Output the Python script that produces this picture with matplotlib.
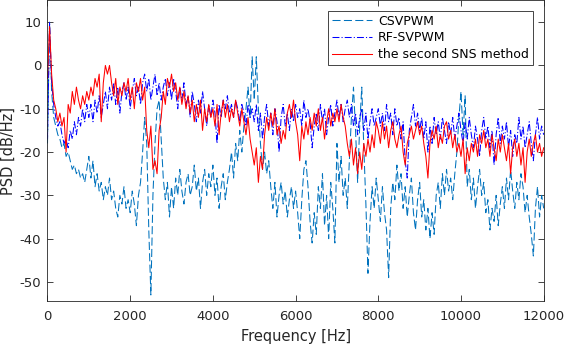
import numpy as np
import matplotlib
matplotlib.use('Agg')
import matplotlib.pyplot as plt

# frequency grid of the read-off points [Hz]
freq = np.arange(0, 12001, 50)

# CSVPWM PSD [dB/Hz]
csvpwm = [
    -18, 10, -6, -12, -14, -16, -17, -19, -18, -21, -20, -22, -24, -23, -25, -24, -26, -25, -27, -24,
    -21, -26, -22, -28, -25, -29, -27, -31, -28, -30, -26, -31, -29, -33, -35, -30, -32, -28, -33, -31,
    -34, -29, -32, -37, -30, -27, -20, -12, -18, -38, -53, -30, -18, -10, -8, -17, -26, -31, -27, -35,
    -28, -33, -26, -30, -24, -29, -32, -27, -25, -30, -28, -23, -29, -26, -33, -27, -24, -30, -25, -28,
    -23, -30, -26, -33, -28, -25, -31, -27, -24, -20, -26, -18, -22, -15, -20, -14, -10, -5, -12, 2,
    -8, 2, -10, -18, -24, -20, -25, -22, -28, -33, -27, -35, -30, -27, -32, -29, -35, -31, -28, -33,
    -29, -34, -40, -31, -24, -22, -28, -36, -41, -34, -39, -28, -33, -25, -37, -30, -40, -27, -33, -41,
    -18, -27, -21, -30, -26, -33, -22, -12, -5, -15, -27, -14, -5, -19, -32, -48, -36, -28, -33, -26,
    -31, -36, -28, -34, -38, -49, -33, -27, -31, -23, -29, -25, -33, -28, -35, -30, -26, -34, -38, -31,
    -27, -35, -31, -38, -33, -40, -34, -39, -30, -27, -33, -25, -30, -24, -29, -26, -31, -25, -20, -12,
    -6, -16, -7, -28, -24, -31, -26, -33, -28, -24, -30, -27, -34, -31, -38, -33, -36, -30, -37, -32,
    -28, -33, -26, -31, -24, -29, -33, -27, -31, -25, -28, -34, -30, -35, -39, -44, -33, -28, -35, -30, -33,
]

# RF-SVPWM PSD [dB/Hz]
rfsvpwm = [
    -17, 10, -4, -9, -12, -14, -13, -16, -18, -17, -19, -15, -17, -13, -16, -12, -14, -10, -13, -9,
    -12, -9, -13, -8, -11, -7, -12, -9, -6, -10, -5, -8, -4, -9, -5, -11, -6, -4, -8, -5,
    -10, -6, -3, -7, -5, -9, -4, -2, -6, -3, -8, -5, -2, -7, -4, -8, -5, -3, -7, -4,
    -8, -3, -6, -10, -5, -8, -4, -9, -7, -12, -6, -9, -13, -8, -11, -6, -10, -14, -9, -12,
    -8, -11, -18, -9, -12, -8, -10, -7, -11, -9, -12, -8, -10, -13, -9, -11, -14, -9, -12, -10,
    -13, -9, -15, -11, -17, -12, -9, -14, -11, -16, -10, -13, -20, -12, -9, -14, -11, -15, -10, -13,
    -9, -12, -10, -14, -8, -12, -10, -13, -19, -14, -11, -15, -9, -13, -10, -16, -12, -9, -14, -11,
    -8, -12, -9, -13, -10, -8, -12, -9, -14, -11, -16, -12, -10, -15, -11, -17, -13, -10, -14, -12,
    -10, -14, -11, -15, -9, -13, -11, -16, -10, -14, -12, -17, -13, -22, -26, -15, -12, -9, -14, -11,
    -15, -12, -17, -13, -20, -14, -18, -12, -16, -13, -17, -12, -15, -18, -13, -16, -12, -17, -14, -11,
    -15, -18, -13, -17, -12, -16, -19, -14, -17, -21, -15, -12, -17, -14, -19, -15, -23, -16, -12, -18,
    -14, -17, -13, -19, -15, -21, -16, -18, -12, -17, -14, -19, -16, -13, -18, -22, -16, -12, -17, -14, -16,
]

# the second SNS method PSD [dB/Hz]
sns2 = [
    -3, 9, -2, -8, -10, -13, -11, -14, -12, -20, -9, -11, -6, -9, -5, -8, -10, -7, -9, -6,
    -8, -5, -7, -3, -5, -2, -13, -4, 0, -2, 0, -4, -7, -3, -9, -5, -7, -4, -6, -3,
    -8, -5, -10, -4, -6, -3, -8, -5, -15, -19, -14, -24, -22, -25, -15, -12, -6, -9, -3, -5,
    -2, -6, -4, -8, -5, -9, -6, -10, -7, -11, -8, -13, -9, -12, -8, -15, -10, -13, -9, -12,
    -10, -14, -9, -16, -11, -8, -12, -9, -13, -10, -12, -8, -11, -14, -10, -13, -16, -12, -17, -20,
    -23, -19, -27, -21, -24, -16, -12, -15, -11, -14, -10, -16, -14, -18, -15, -17, -11, -9, -12, -8,
    -13, -16, -22, -14, -17, -13, -16, -12, -15, -11, -14, -10, -15, -12, -17, -13, -10, -14, -11, -13,
    -10, -13, -9, -12, -14, -18, -21, -17, -23, -19, -25, -20, -24, -18, -21, -17, -20, -16, -19, -13,
    -15, -18, -13, -17, -14, -19, -15, -13, -17, -19, -16, -14, -20, -23, -18, -16, -14, -17, -15, -13,
    -16, -14, -18, -21, -26, -18, -15, -17, -14, -19, -16, -18, -14, -13, -17, -15, -19, -16, -20, -18,
    -21, -17, -25, -19, -22, -18, -20, -17, -21, -16, -18, -15, -19, -17, -21, -16, -19, -22, -17, -20,
    -16, -19, -22, -18, -25, -19, -17, -21, -18, -23, -19, -27, -20, -17, -21, -18, -16, -20, -18, -21, -19,
]

plt.rcParams['lines.scale_dashes'] = False
plt.rcParams['axes.unicode_minus'] = False
plt.rcParams['font.family'] = ['DejaVu Sans']

fig = plt.figure(figsize=(5.66, 3.48), dpi=100)
ax = fig.add_axes([0.0839, 0.1362, 0.8767, 0.8624])

ax.plot(freq, csvpwm, color='#0072BD', lw=0.75, linestyle=(0, (5.8, 2.4)), label='CSVPWM')
ax.plot(freq, rfsvpwm, color='#0000FF', lw=0.75, linestyle=(0, (5.0, 1.5, 0.8, 1.5)), label='RF-SVPWM')
ax.plot(freq, sns2, color='#FF0000', lw=0.75, label='the second SNS method')

ax.set_xlim(0, 12000)
ax.set_ylim(-54.3, 15)
ax.set_xticks(np.arange(0, 12001, 2000))
ax.set_yticks(np.arange(-50, 11, 10))
ax.tick_params(direction='in', top=True, right=True, length=4, width=0.6,
               labelsize=9.5, colors='#262626')
ax.tick_params(axis='x', pad=6.5)
ax.tick_params(axis='y', pad=4.5)
for sp in ax.spines.values():
    sp.set_color('#262626')
    sp.set_linewidth(0.6)

ax.set_xlabel('Frequency [Hz]', fontsize=10.5, color='#262626')
ax.set_ylabel('PSD [dB/Hz]', fontsize=10.5, color='#262626')
ax.xaxis.set_label_coords(0.5, -0.093)
ax.yaxis.set_label_coords(-0.063, 0.5)

leg = ax.legend(loc='upper right', bbox_to_anchor=(0.978, 0.965), borderaxespad=0,
                fontsize=9, fancybox=False, framealpha=1, edgecolor='#262626',
                handlelength=3.2, handletextpad=0.5, labelspacing=0.3,
                borderpad=0.3)
leg.get_frame().set_linewidth(0.6)

fig.savefig('out.png', dpi=100)
